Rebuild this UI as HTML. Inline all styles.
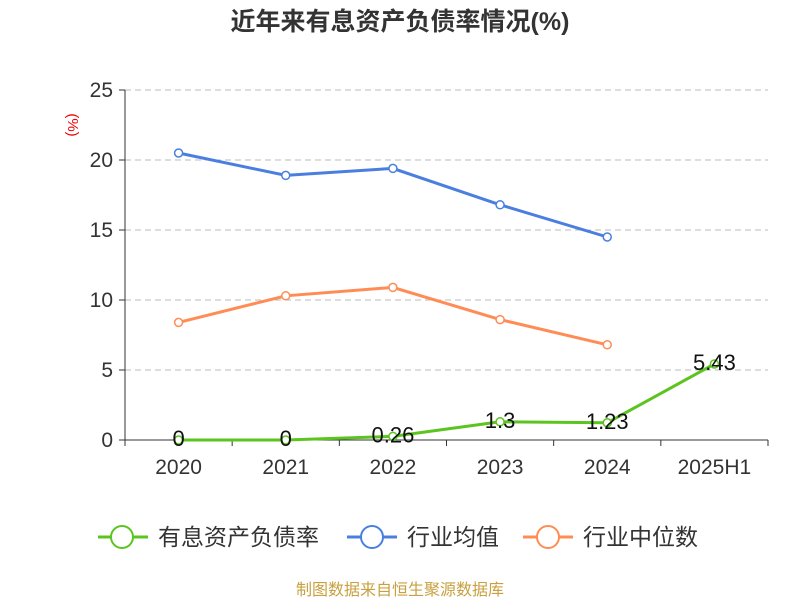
<!DOCTYPE html>
<html><head><meta charset="utf-8"><style>
body{margin:0;background:#fff;}
svg{display:block;font-family:"Liberation Sans","Noto Sans CJK SC",sans-serif;}
</style></head><body>
<svg id="chart" width="800" height="600" xmlns="http://www.w3.org/2000/svg">
<text x="400" y="30" text-anchor="middle" font-size="25" font-weight="bold" fill="#333">近年来有息资产负债率情况(%)</text>
<text transform="translate(68,125) rotate(90)" text-anchor="middle" font-size="15" fill="#e00">(%)</text>
<g id="grid"></g><g id="axes"></g><g id="series"></g>
<g font-size="23" fill="#333">
<g><line x1="98" y1="537" x2="148" y2="537" stroke="#5cc41f" stroke-width="3"/><circle cx="122" cy="537" r="11" fill="#fff" stroke="#5cc41f" stroke-width="2"/><text x="158" y="545">有息资产负债率</text></g>
<g><line x1="347" y1="537" x2="397" y2="537" stroke="#4a7fe0" stroke-width="3"/><circle cx="372" cy="537" r="11" fill="#fff" stroke="#4a7fe0" stroke-width="2"/><text x="407" y="545">行业均值</text></g>
<g><line x1="523" y1="537" x2="573" y2="537" stroke="#ff8c55" stroke-width="3"/><circle cx="548" cy="537" r="11" fill="#fff" stroke="#ff8c55" stroke-width="2"/><text x="583" y="545">行业中位数</text></g>
</g>
<text x="400" y="595" text-anchor="middle" font-size="16" fill="#c8a040">制图数据来自恒生聚源数据库</text>
</svg>
<script>
const categories=["2020","2021","2022","2023","2024","2025H1"];
const debtRatio=[0,0,0.26,1.3,1.23,5.43];
const debtLabels=["0","0","0.26","1.3","1.23","5.43"];
const industryAvg=[20.5,18.9,19.4,16.8,14.5];
const industryMedian=[8.4,10.3,10.9,8.6,6.8];
const yTicks=[0,5,10,15,20,25];
const NS="http://www.w3.org/2000/svg";
const x0=125,x1=768,yb=440,yt=90,ymax=25;
const bw=(x1-x0)/categories.length;
const xs=i=>x0+bw*(i+0.5);
const ys=v=>yb-(v/ymax)*(yb-yt);
function mk(tag,attrs,parent,text){const e=document.createElementNS(NS,tag);for(const k in attrs)e.setAttribute(k,attrs[k]);if(text!==undefined)e.textContent=text;parent.appendChild(e);return e;}
const grid=document.getElementById('grid'),axes=document.getElementById('axes'),ser=document.getElementById('series');
yTicks.forEach(t=>{
 if(t>0){const g=mk('line',{x1:x0,x2:x1,y1:ys(t),y2:ys(t),stroke:'#bbb','stroke-dasharray':'6,4'},grid);
 
 }
 const tk=mk('line',{x1:x0-6,x2:x0,y1:ys(t),y2:ys(t),stroke:'#333'},axes);
 
 
 const l=mk('text',{x:x0-12,y:ys(t)+7,'text-anchor':'end','font-size':'21',fill:'#333'},axes,String(t));
 
 
});
const ya=mk('line',{x1:x0,x2:x0,y1:yt,y2:yb,stroke:'#333'},axes);


const xa=mk('line',{x1:x0,x2:x1,y1:yb,y2:yb,stroke:'#333'},axes);


for(let i=0;i<=categories.length;i++){const t=mk('line',{x1:x0+bw*i,x2:x0+bw*i,y1:yb,y2:yb+6,stroke:'#333'},axes);
 
 }
categories.forEach((c,i)=>{const l=mk('text',{x:xs(i),y:474,'text-anchor':'middle','font-size':'21',fill:'#333'},axes,c);
 
 });
function drawSeries(vals,color,name){
 const pl=mk('polyline',{points:vals.map((v,i)=>xs(i)+','+ys(v)).join(' '),fill:'none',stroke:color,'stroke-width':3},ser);
 
 
 vals.forEach((v,i)=>{const c=mk('circle',{cx:xs(i),cy:ys(v),r:4,fill:'#fff',stroke:color,'stroke-width':1.5},ser);
  
  });
}
drawSeries(industryAvg,'#4a7fe0','industry-avg');
drawSeries(industryMedian,'#ff8c55','industry-median');
drawSeries(debtRatio,'#5cc41f','debt-ratio');
debtRatio.forEach((v,i)=>{const l=mk('text',{x:xs(i),y:ys(v)+6,'text-anchor':'middle','font-size':'22',fill:'#111'},ser,debtLabels[i]);
 
 });
</script>
</body></html>
